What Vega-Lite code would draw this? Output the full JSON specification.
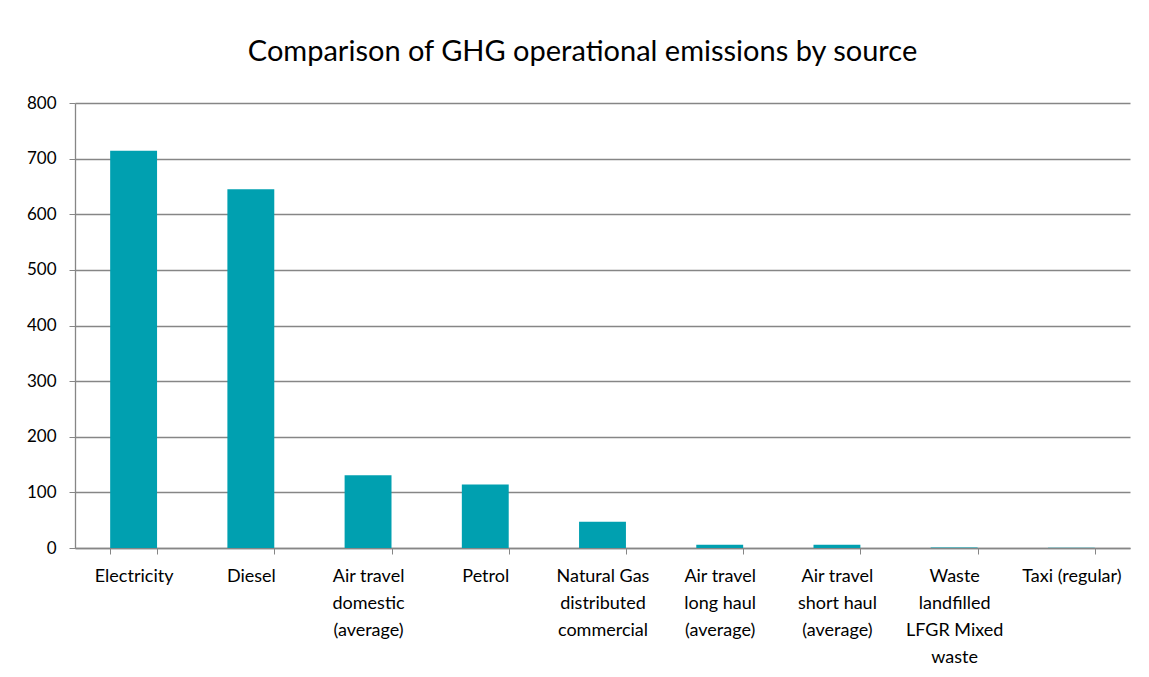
{
  "$schema": "https://vega.github.io/schema/vega-lite/v6.json",
  "width": 1055,
  "height": 445,
  "autosize": {"type": "none"},
  "padding": {"left": 75, "top": 103, "right": 19, "bottom": 129},
  "background": "white",
  "title": {
    "text": "Comparison of GHG operational emissions by source",
    "font": "Lato",
    "fontSize": 29,
    "fontWeight": "normal",
    "color": "#000000",
    "anchor": "middle",
    "dx": -20,
    "offset": 27
  },
  "config": {
    "view": {"stroke": null},
    "font": "Lato"
  },
  "data": {
    "values": [
      {"source": "Electricity", "emissions": 714},
      {"source": "Diesel", "emissions": 645},
      {"source": "Air travel domestic (average)", "emissions": 131},
      {"source": "Petrol", "emissions": 114},
      {"source": "Natural Gas distributed commercial", "emissions": 47},
      {"source": "Air travel long haul (average)", "emissions": 6},
      {"source": "Air travel short haul (average)", "emissions": 6},
      {"source": "Waste landfilled LFGR Mixed waste", "emissions": 1},
      {"source": "Taxi (regular)", "emissions": 0.5}
    ]
  },
  "mark": {"type": "bar", "color": "#00A0B0"},
  "encoding": {
    "x": {
      "field": "source",
      "type": "nominal",
      "sort": null,
      "title": null,
      "scale": {"paddingInner": 0.6, "paddingOuter": 0.3},
      "axis": {
        "labelAngle": 0,
        "labelFont": "Lato",
        "labelFontSize": 18,
        "labelColor": "#000000",
        "labelLineHeight": 27,
        "labelPadding": 13,
        "labelBaseline": "top",
        "tickBand": "extent",
        "tickColor": "#868686",
        "tickSize": 6,
        "domainColor": "#868686",
        "domainWidth": 1.5,
        "labelExpr": "datum.value == 'Air travel domestic (average)' ? ['Air travel','domestic','(average)'] : datum.value == 'Natural Gas distributed commercial' ? ['Natural Gas','distributed','commercial'] : datum.value == 'Air travel long haul (average)' ? ['Air travel','long haul','(average)'] : datum.value == 'Air travel short haul (average)' ? ['Air travel','short haul','(average)'] : datum.value == 'Waste landfilled LFGR Mixed waste' ? ['Waste','landfilled','LFGR Mixed','waste'] : datum.value"
      }
    },
    "y": {
      "field": "emissions",
      "type": "quantitative",
      "title": null,
      "scale": {"domain": [0, 800], "nice": false},
      "axis": {
        "values": [0, 100, 200, 300, 400, 500, 600, 700, 800],
        "labelFont": "Lato",
        "labelFontSize": 17,
        "labelColor": "#000000",
        "labelPadding": 13,
        "tickColor": "#868686",
        "tickSize": 6,
        "gridColor": "#868686",
        "gridWidth": 1.3,
        "domainColor": "#868686",
        "domainWidth": 1.3
      }
    }
  }
}
